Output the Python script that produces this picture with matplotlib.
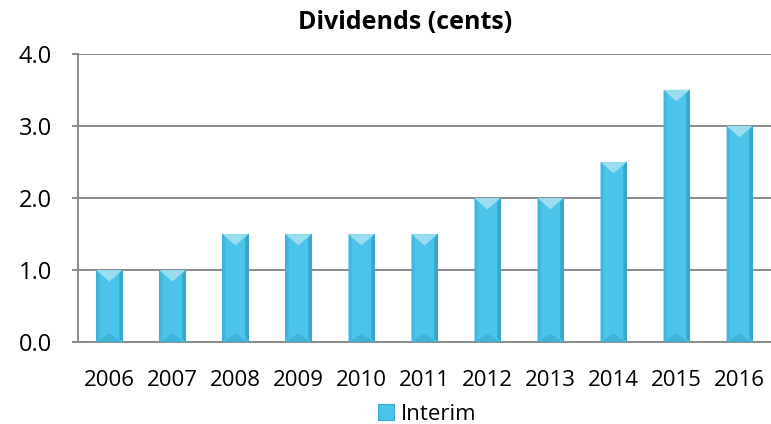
import numpy as np
import matplotlib.pyplot as plt
from matplotlib.patches import Polygon

## Data
years = ["2006", "2007", "2008", "2009", "2010", "2011", "2012", "2013", "2014", "2015", "2016"]
interim = [1.0, 1.0, 1.5, 1.5, 1.5, 1.5, 2.0, 2.0, 2.5, 3.5, 3.0]

plt.rcParams['font.family'] = ['Open Sans', 'DejaVu Sans']

fig = plt.figure(figsize=(7.71, 4.24), dpi=100)
ax = fig.add_axes([0.101, 0.193, 0.899, 0.680])

x = np.arange(len(years))
bars = ax.bar(x, interim, width=0.41, color="#4BC4EA", edgecolor="#3AA9CF",
              linewidth=0.8, zorder=3, label="Interim")

# bevel look: lighter triangle on top, darker sides
for b in bars:
    x0, w, h = b.get_x(), b.get_width(), b.get_height()
    tri_h = 0.16
    ax.add_patch(Polygon([[x0, h], [x0 + w, h], [x0 + w / 2, h - tri_h]],
                         closed=True, color="#9ADDF1", zorder=4, lw=0))
    ax.add_patch(Polygon([[x0, 0], [x0 + w, 0], [x0 + w / 2, 0.12]],
                         closed=True, color="#3FB2D8", zorder=4, lw=0))
    ax.add_patch(Polygon([[x0, 0], [x0 + w * 0.12, 0.06], [x0 + w * 0.12, h - 0.06], [x0, h]],
                         closed=True, color="#41B6DC", zorder=4, lw=0))
    ax.add_patch(Polygon([[x0 + w, 0], [x0 + w * 0.88, 0.06], [x0 + w * 0.88, h - 0.06], [x0 + w, h]],
                         closed=True, color="#38A5CB", zorder=4, lw=0))

ax.set_xlim(-0.5, len(years) - 0.5)
ax.set_ylim(0, 4.0)
ax.set_yticks([0, 1, 2, 3, 4])
ax.set_yticklabels([f"{v:.1f}" for v in [0, 1, 2, 3, 4]], fontsize=17)
ax.set_xticks(x)
ax.set_xticklabels(years, fontsize=16)

ax.grid(axis="y", color="#8A8A8A", linewidth=1.4, zorder=0)
ax.tick_params(axis="y", length=4.5, width=1.4, color="#8A8A8A", pad=14)
ax.tick_params(axis="x", length=0, pad=20)
for s in ["top", "right"]:
    ax.spines[s].set_visible(False)
for s in ["left", "bottom"]:
    ax.spines[s].set_color("#8A8A8A")
    ax.spines[s].set_linewidth(1.4)

fig.text(0.525, 0.946, "Dividends (cents)", ha="center", va="center",
         fontsize=18, fontweight="bold")

ax.legend(loc="center", bbox_to_anchor=(0.504, -0.25), frameon=False,
          fontsize=16, handlelength=0.7, handleheight=0.7, handletextpad=0.3,
          borderpad=0.1)

fig.savefig("out.png", dpi=100)
